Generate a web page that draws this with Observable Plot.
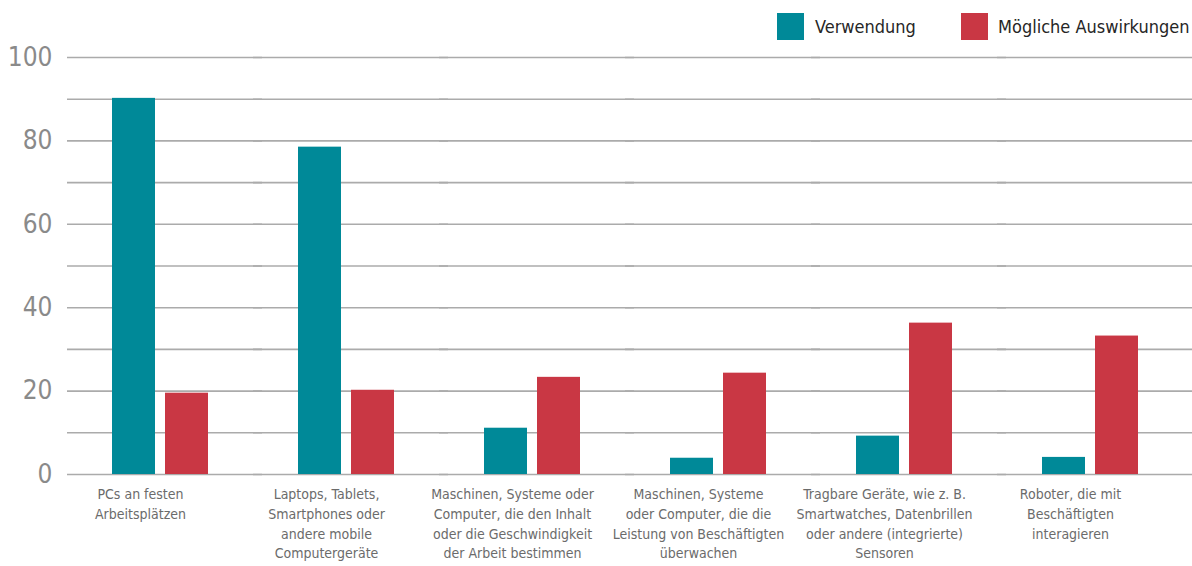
<!DOCTYPE html>
<html>
<head>
<meta charset="utf-8">
<script src="https://cdn.jsdelivr.net/npm/d3@7"></script>
<script src="https://cdn.jsdelivr.net/npm/@observablehq/plot@0.6"></script>
<style>
  html, body { margin: 0; padding: 0; background: #fff; }
  body { width: 1192px; height: 566px; position: relative; overflow: hidden;
         font-family: "DejaVu Sans Condensed", "Liberation Sans Narrow", sans-serif; }
  #legend { position: absolute; top: 0; left: 0; width: 1192px; height: 55px; pointer-events: none; }
  .sw { position: absolute; top: 13px; width: 27px; height: 27px; }
  .lt { position: absolute; top: 13px; height: 27px; line-height: 27px; font-size: 18px; color: #262626; white-space: nowrap; }
</style>
</head>
<body>
<div id="chart"></div>
<div id="legend"></div>
<script>
const categories = [
  "PCs an festen Arbeitsplätzen",
  "Laptops, Tablets, Smartphones oder andere mobile Computergeräte",
  "Maschinen, Systeme oder Computer, die den Inhalt oder die Geschwindigkeit der Arbeit bestimmen",
  "Maschinen, Systeme oder Computer, die die Leistung von Beschäftigten überwachen",
  "Tragbare Geräte, wie z. B. Smartwatches, Datenbrillen oder andere (integrierte) Sensoren",
  "Roboter, die mit Beschäftigten interagieren"
];
const tickLabels = [
  "PCs an festen\nArbeitsplätzen",
  "Laptops, Tablets,\nSmartphones oder\nandere mobile\nComputergeräte",
  "Maschinen, Systeme oder\nComputer, die den Inhalt\noder die Geschwindigkeit\nder Arbeit bestimmen",
  "Maschinen, Systeme\noder Computer, die die\nLeistung von Beschäftigten\nüberwachen",
  "Tragbare Geräte, wie z. B.\nSmartwatches, Datenbrillen\noder andere (integrierte)\nSensoren",
  "Roboter, die mit\nBeschäftigten\ninteragieren"
];
const series = ["Verwendung", "Mögliche Auswirkungen"];
const verwendung = [90.2, 78.5, 11.1, 3.9, 9.2, 4.1];
const auswirkungen = [19.5, 20.2, 23.3, 24.3, 36.3, 33.2];
const colors = ["#008998", "#c93744"];
const yTicks = [0, 20, 40, 60, 80, 100];
const gridTicks = [0, 10, 20, 30, 40, 50, 60, 70, 80, 90, 100];

const data = categories.flatMap((c, i) => [
  {cat: c, series: series[0], value: verwendung[i]},
  {cat: c, series: series[1], value: auswirkungen[i]}
]);

const chart = Plot.plot({
  width: 1192,
  height: 566,
  marginTop: 57,
  marginBottom: 92,
  marginLeft: 67,
  marginRight: 9,
  style: {fontFamily: '"DejaVu Sans Condensed", "Liberation Sans Narrow", sans-serif', background: "#fff"},
  fx: {domain: categories, padding: 0, label: null, axis: null},
  x: {domain: series, paddingInner: 0.1887, paddingOuter: 0.849, axis: null},
  y: {domain: [0, 100], axis: null},
  color: {domain: series, range: colors},
  marks: [
    Plot.ruleY(gridTicks, {stroke: "#ababab", strokeWidth: 1.6, insetRight: -9}),
    Plot.barY(data, {fx: "cat", x: "series", y: "value", fill: "series"}),
    Plot.axisY({ticks: yTicks, tickSize: 0, tickPadding: 15, fontSize: 26, fill: "#8a8a8a", label: null}),
    Plot.axisFx({anchor: "bottom", tickSize: 0, tickPadding: 11, fontSize: 14, lineHeight: 1.4, fill: "#6b6b6b",
      label: null, dx: -20, tickFormat: d => tickLabels[categories.indexOf(d)]})
  ]
});
document.getElementById("chart").appendChild(chart);

const legend = document.getElementById("legend");
const legendPos = [[777, 815], [961, 998]];
series.forEach((s, i) => {
  const sw = document.createElement("div");
  sw.className = "sw";
  sw.style.left = legendPos[i][0] + "px";
  sw.style.background = colors[i];
  legend.appendChild(sw);
  const t = document.createElement("div");
  t.className = "lt";
  t.style.left = legendPos[i][1] + "px";
  t.textContent = s;
  legend.appendChild(t);
});
</script>
</body>
</html>
